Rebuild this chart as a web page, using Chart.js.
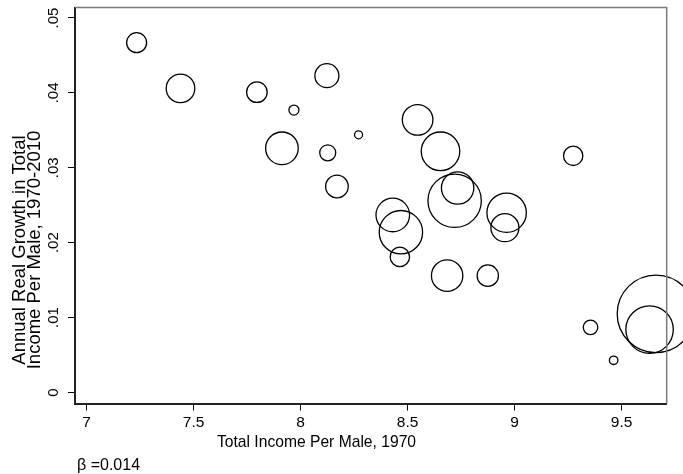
<!DOCTYPE html>
<html>
<head>
<meta charset="utf-8">
<script src="https://cdn.jsdelivr.net/npm/chart.js@4.4.0/dist/chart.umd.min.js"></script>
<style>
  html, body { margin: 0; padding: 0; background: #fff; }
  canvas { display: block; }
</style>
</head>
<body>
<canvas id="c" width="683" height="474"></canvas>
<script>
// Log total income per male in 1970 (x) against annual real growth 1970-2010 (y);
// each bubble's area follows its population weight.
const incomePerMale1970 = [
  7.234, 7.439, 7.796, 7.969, 7.913, 8.123, 8.127, 8.170, 8.271,
  8.547, 8.654, 8.720, 8.734, 8.431, 8.469, 8.464, 8.963, 8.955,
  8.685, 8.875, 9.274, 9.355, 9.463, 9.631, 9.661
];
const annualGrowth = [
  0.0467, 0.0406, 0.0401, 0.0377, 0.0326, 0.0423, 0.0320, 0.0275, 0.0344,
  0.0364, 0.0322, 0.0256, 0.0273, 0.0237, 0.0214, 0.0181, 0.0240, 0.0220,
  0.0156, 0.0156, 0.0316, 0.0087, 0.0043, 0.0084, 0.0105
];
const populationWeight = [
  1.00, 2.04, 1.06, 0.25, 2.66, 1.44, 0.64, 1.28, 0.16,
  2.34, 3.72, 7.13, 2.62, 2.82, 4.71, 0.94, 3.88, 1.96,
  2.46, 1.14, 0.94, 0.53, 0.18, 5.62, 15.05
];

const xTickValues = [7, 7.5, 8, 8.5, 9, 9.5];
const xTickLabels = ['7', '7.5', '8', '8.5', '9', '9.5'];
const yTickValues = [0, 0.01, 0.02, 0.03, 0.04, 0.05];
const yTickLabels = ['0', '.01', '.02', '.03', '.04', '.05'];

const xTitle = 'Total Income Per Male, 1970';
const yTitleLines = ['Annual Real Growth in Total', 'Income Per Male, 1970-2010'];
const betaNote = '\u03B2 =0.014';

const BUBBLE_SCALE = 10; // pixel radius of a unit weight

const points = incomePerMale1970.map((x, i) => ({
  x: x,
  y: annualGrowth[i],
  r: BUBBLE_SCALE * Math.sqrt(populationWeight[i])
}));

function labelFor(values, labels, v) {
  const i = values.findIndex(t => Math.abs(t - v) < 1e-9);
  return i >= 0 ? labels[i] : '';
}

// grey frame on the top and right sides of the plot region
const framePlugin = {
  id: 'frame',
  afterDatasetsDraw(chart) {
    const { ctx, chartArea: a } = chart;
    ctx.save();
    ctx.strokeStyle = '#7a7a7a';
    ctx.lineWidth = 1.5;
    ctx.beginPath();
    ctx.moveTo(a.left, a.top);
    ctx.lineTo(a.right, a.top);
    ctx.lineTo(a.right, a.bottom);
    ctx.stroke();
    ctx.restore();
  }
};

// axis titles and the coefficient note
const textPlugin = {
  id: 'texts',
  afterDraw(chart) {
    const ctx = chart.ctx;
    ctx.save();
    ctx.fillStyle = '#000';
    ctx.textBaseline = 'alphabetic';

    // slightly condensed x title
    ctx.save();
    ctx.font = '17px "Liberation Sans", Arial, sans-serif';
    ctx.textAlign = 'center';
    ctx.translate(316.5, 446.5);
    ctx.scale(0.92, 1);
    ctx.fillText(xTitle, 0, 0);
    ctx.restore();

    ctx.font = '18.5px "Liberation Sans", Arial, sans-serif';
    ctx.textAlign = 'center';
    const baselines = [25, 39.5];
    yTitleLines.forEach((line, i) => {
      ctx.save();
      ctx.translate(baselines[i], 250);
      ctx.rotate(-Math.PI / 2);
      ctx.fillText(line, 0, 0);
      ctx.restore();
    });

    ctx.font = '16px "Liberation Sans", Arial, sans-serif';
    ctx.textAlign = 'left';
    ctx.fillText(betaNote, 77, 470);
    ctx.restore();
  }
};

new Chart(document.getElementById('c'), {
  type: 'bubble',
  data: {
    datasets: [{
      data: points,
      backgroundColor: 'rgba(0,0,0,0)',
      borderColor: '#000',
      borderWidth: 1.3,
      hoverBorderWidth: 1.3,
      hoverRadius: 0,
      clip: false
    }]
  },
  options: {
    responsive: false,
    devicePixelRatio: 1,
    animation: false,
    events: [],
    layout: { autoPadding: false, padding: { left: 0, top: 7.5, right: 16.3, bottom: 0 } },
    plugins: {
      legend: { display: false },
      tooltip: { enabled: false }
    },
    scales: {
      x: {
        type: 'linear',
        min: 6.946,
        max: 9.711,
        afterBuildTicks: axis => { axis.ticks = xTickValues.map(v => ({ value: v })); },
        afterFit: s => { s.height = 70.5; s.paddingLeft = 0; s.paddingRight = 0; },
        border: { color: '#222', width: 2 },
        grid: { drawOnChartArea: false, drawTicks: true, tickLength: 7, tickColor: '#000', tickWidth: 1 },
        ticks: {
          autoSkip: false,
          maxRotation: 0,
          padding: 3,
          color: '#000',
          font: { family: '"Liberation Sans", Arial, sans-serif', size: 15.5 },
          callback: v => labelFor(xTickValues, xTickLabels, v)
        }
      },
      y: {
        type: 'linear',
        min: -0.00147,
        max: 0.0514,
        afterBuildTicks: axis => { axis.ticks = yTickValues.map(v => ({ value: v })); },
        afterFit: s => { s.width = 75; s.paddingTop = 0; s.paddingBottom = 0; },
        border: { color: '#222', width: 2 },
        grid: { drawOnChartArea: false, drawTicks: true, tickLength: 7, tickColor: '#000', tickWidth: 1 },
        ticks: {
          autoSkip: false,
          minRotation: 90,
          maxRotation: 90,
          crossAlign: 'center',
          padding: 4,
          color: '#000',
          font: { family: '"Liberation Sans", Arial, sans-serif', size: 15 },
          callback: v => labelFor(yTickValues, yTickLabels, v)
        }
      }
    }
  },
  plugins: [framePlugin, textPlugin]
});
</script>
</body>
</html>
